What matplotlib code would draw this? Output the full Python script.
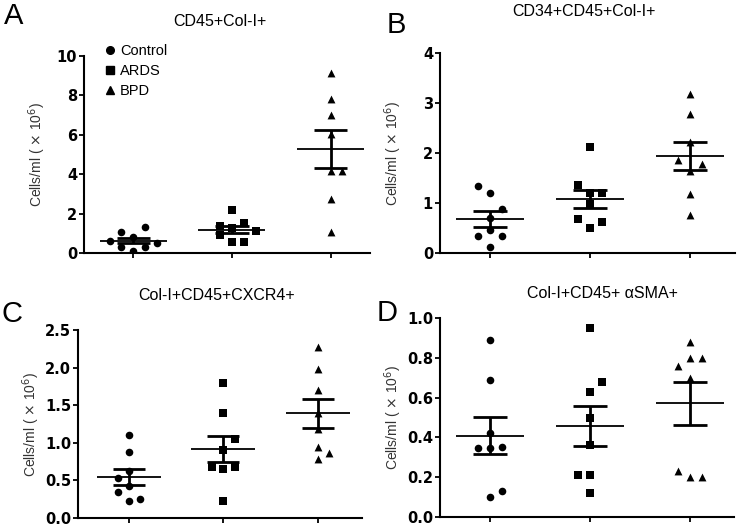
import numpy as np
import matplotlib
matplotlib.use('Agg')
import matplotlib.pyplot as plt
from matplotlib.lines import Line2D

plt.rcParams['font.family'] = ['Liberation Sans', 'DejaVu Sans']

W, H = 743, 528

groups = ['Control', 'ARDS', 'BPD']
markers = ['o', 's', '^']
msizes = [30, 26, 32]

# values (cells/ml x 10^6)
a_control = [0.63, 1.08, 1.30, 0.83, 0.29, 0.12, 0.29, 0.52]
a_ards = [2.20, 1.38, 1.52, 1.25, 0.92, 1.10, 0.58, 0.58]
a_bpd = [9.15, 7.80, 7.00, 6.05, 4.15, 4.15, 2.75, 1.08]

b_control = [1.35, 1.20, 0.89, 0.70, 0.35, 0.46, 0.35, 0.13]
b_ards = [2.12, 1.37, 1.20, 1.20, 0.98, 0.68, 0.63, 0.50]
b_bpd = [3.19, 2.79, 2.22, 1.87, 1.79, 1.65, 1.19, 0.76]

c_control = [1.10, 0.88, 0.62, 0.53, 0.42, 0.34, 0.22, 0.25]
c_ards = [1.80, 1.40, 1.05, 0.90, 0.68, 0.65, 0.68, 0.22]
c_bpd = [2.27, 1.98, 1.70, 1.40, 1.18, 0.95, 0.87, 0.78]

d_control = [0.89, 0.69, 0.42, 0.345, 0.345, 0.35, 0.10, 0.13]
d_ards = [0.95, 0.68, 0.63, 0.50, 0.36, 0.21, 0.21, 0.12]
d_bpd = [0.88, 0.76, 0.80, 0.80, 0.70, 0.23, 0.20, 0.20]

# horizontal scatter slots (in marker widths), layout only
a_slots = [[-2, -1, 1, 0, -1, 0, 1, 2], [0, -1, 1, 0, -1, 2, 0, 1], [0, 0, 0, 0, 0, 1, 0, 0]]
b_slots = [[-1, 0, 1, 0, -1, 0, 1, 0], [0, -1, 0, 1, 0, -1, 1, 0], [0, 0, 0, -1, 1, 0, 0, 0]]
c_slots = [[0, 0, 0, -1, 0, -1, 0, 1], [0, 0, 1, 0, -1, 0, 1, 0], [0, 0, 0, 0, 0, 0, 1, 0]]
d_slots = [[0, 0, 0, -1, 0, 1, 0, 1], [0, 1, 0, 0, 0, -1, 0, 0], [0, -1, 0, 1, 0, -1, 0, 1]]

titles = ['CD45+Col-I+', 'CD34+CD45+Col-I+', 'Col-I+CD45+CXCR4+', 'Col-I+CD45+ \u03b1SMA+']
letters = ['A', 'B', 'C', 'D']
yticks = [[0, 2, 4, 6, 8, 10], [0, 1, 2, 3, 4],
          [0.0, 0.5, 1.0, 1.5, 2.0, 2.5], [0.0, 0.2, 0.4, 0.6, 0.8, 1.0]]
yfmt = ['{:.0f}', '{:.0f}', '{:.1f}', '{:.1f}']

panels = [
    dict(data=[a_control, a_ards, a_bpd], slots=a_slots, box=(84, 56, 370, 253), xlim=(-0.5, 2.4),
         title=(220, 22), letter=(14, 16)),
    dict(data=[b_control, b_ards, b_bpd], slots=b_slots, box=(440, 53, 735, 253), xlim=(-0.5, 2.45),
         title=(584, 12), letter=(396, 25)),
    dict(data=[c_control, c_ards, c_bpd], slots=c_slots, box=(78, 330, 362, 518), xlim=(-0.54, 2.47),
         title=(217, 295), letter=(12, 314)),
    dict(data=[d_control, d_ards, d_bpd], slots=d_slots, box=(440, 318, 734, 517), xlim=(-0.5, 2.44),
         title=(602, 293), letter=(387, 313)),
]

fig = plt.figure(figsize=(W / 100, H / 100), dpi=100)

for k, p in enumerate(panels):
    x0, y0, x1, y1 = p['box']
    ax = fig.add_axes([x0 / W, 1 - y1 / H, (x1 - x0) / W, (y1 - y0) / H])
    for i, vals in enumerate(p['data']):
        v = np.array(vals)
        xs = i + np.array(p['slots'][i]) * 0.12
        ax.scatter(xs, v, marker=markers[i], s=msizes[i], color='black', linewidths=0, zorder=3)
        m = v.mean()
        se = v.std(ddof=1) / np.sqrt(len(v))
        ax.hlines(m, i - 0.34, i + 0.34, color='black', lw=1.3, zorder=4)
        ax.vlines(i, m - se, m + se, color='black', lw=2.0, zorder=4)
        ax.hlines([m - se, m + se], i - 0.17, i + 0.17, color='black', lw=2.0, zorder=4)

    ax.set_xlim(*p['xlim'])
    ax.set_ylim(yticks[k][0], yticks[k][-1])
    ax.set_xticks([0, 1, 2])
    ax.set_xticklabels([])
    ax.set_yticks(yticks[k])
    ax.set_yticklabels([yfmt[k].format(t) for t in yticks[k]], fontweight='bold',
                       family='DejaVu Sans', fontsize=10.5)
    for s in ['top', 'right']:
        ax.spines[s].set_visible(False)
    for s in ['left', 'bottom']:
        ax.spines[s].set_linewidth(1.5)
    ax.tick_params(axis='both', direction='out', length=3.5, width=1.3, pad=1.5)
    ax.set_ylabel(r'Cells/ml ( $\times$ 10$^6$)', fontsize=10, color='#333333')
    ax.yaxis.set_label_coords(-36 / (x1 - x0), 0.5)

    tx, ty = p['title']
    fig.text(tx / W, 1 - ty / H, titles[k], ha='center', va='center', fontsize=11.5)
    lx, ly = p['letter']
    fig.text(lx / W, 1 - ly / H, letters[k], ha='center', va='center', fontsize=21)

    if k == 0:
        handles = [Line2D([], [], marker=markers[j], ls='', color='black', ms=5.5) for j in range(3)]
        ax.legend(handles, groups, loc='upper left', bbox_to_anchor=(106 / W, 1 - 44 / H),
                  bbox_transform=fig.transFigure, frameon=False, fontsize=10.5,
                  handlelength=0.6, handletextpad=0.35, labelspacing=0.42,
                  borderpad=0, borderaxespad=0)

fig.savefig('out.png', dpi=100)
